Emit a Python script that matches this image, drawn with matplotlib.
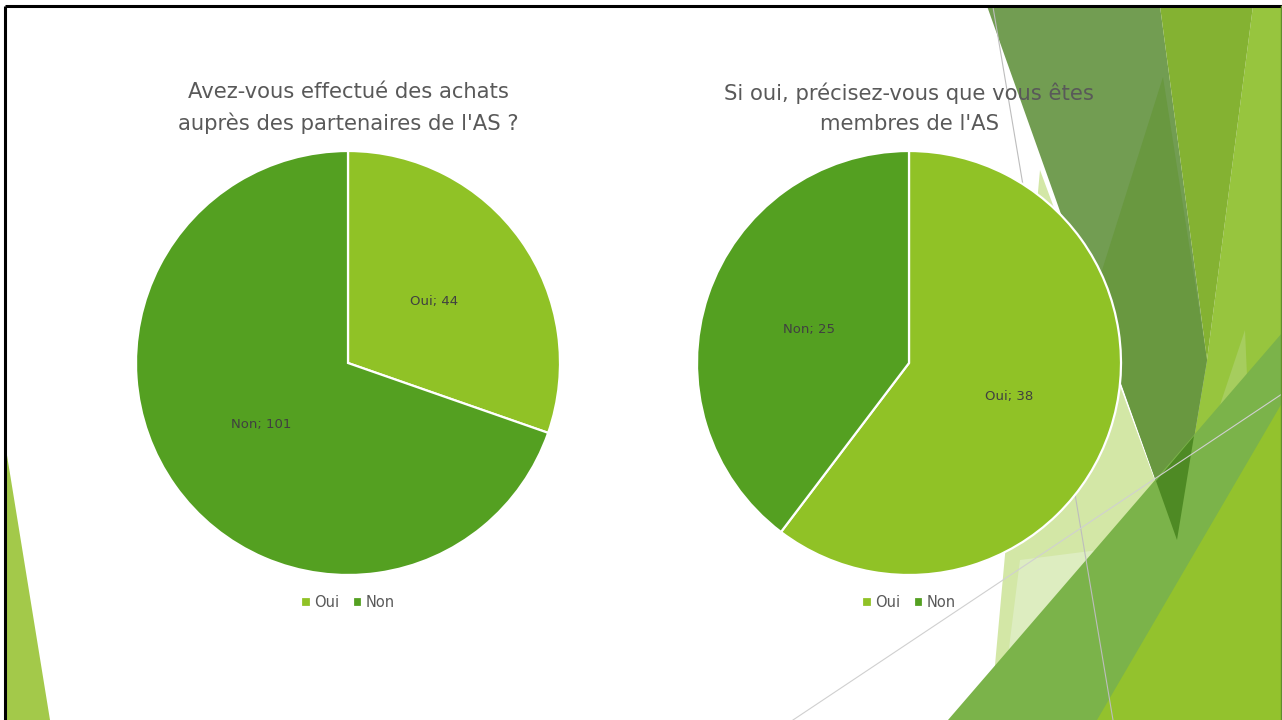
import matplotlib
matplotlib.use("Agg")
import matplotlib.pyplot as plt
from matplotlib.patches import Polygon

# ---- data ----
categories = ["Oui", "Non"]
q1_title = "Avez-vous effectué des achats\nauprès des partenaires de l'AS ?"
q1_values = [44, 101]
q2_title = "Si oui, précisez-vous que vous êtes\nmembres de l'AS"
q2_values = [38, 25]

colors = ["#90C226", "#54A021"]
W, H = 1282, 720
plt.rcParams['font.family'] = ['DejaVu Sans']

fig = plt.figure(figsize=(W / 100, H / 100), dpi=100)
fig.patch.set_facecolor("white")

# ---- background decoration (slide theme) ----
bg = fig.add_axes([0, 0, 1, 1], zorder=0)
bg.set_xlim(0, W)
bg.set_ylim(H, 0)
bg.axis("off")

def poly(pts, color, alpha=1.0, z=1):
    bg.add_patch(Polygon(pts, closed=True, facecolor=color, edgecolor="none",
                         alpha=alpha, zorder=z))

poly([(1253, 6), (1282, 6), (1282, 720), (1100, 720), (1177, 540), (1207, 360)], "#97C53E", z=1)
poly([(1040, 170), (1177, 540), (1100, 720), (990, 720)], "#D3E7A6", z=1)
poly([(1020, 560), (1177, 540), (1100, 720), (1000, 720)], "#DDEDC0", z=1.1)
poly([(987, 6), (1160, 6), (1207, 360), (1177, 540)], "#729D52", z=2)
poly([(1163, 77), (1207, 360), (1177, 540), (1092, 302)], "#699840", z=3)
poly([(1160, 6), (1253, 6), (1207, 360)], "#84B232", z=3)
poly([(1215, 420), (1245, 330), (1262, 720), (1228, 720)], "#A6CD5E", z=3.5)
poly([(948, 720), (1282, 333), (1282, 720)], "#7BB34A", z=4)
poly([(1156, 481), (1194, 436), (1177, 540)], "#4E8A24", z=4.5)
poly([(1097, 720), (1282, 403), (1282, 720)], "#93C22D", z=5)
poly([(5, 443), (5, 720), (50, 720)], "#A3C94A", z=5)
bg.plot([993, 1113], [7, 720], color="#BDBDBD", lw=0.8, zorder=6)
bg.plot([793, 1282], [720, 394], color="#D0D0D0", lw=0.8, zorder=6)
# slide frame
bg.plot([5, 1282], [6, 6], color="black", lw=2.2, zorder=7, solid_capstyle="butt")
bg.plot([5, 5], [6, 720], color="black", lw=2.2, zorder=7, solid_capstyle="butt")
bg.plot([1281, 1281], [6, 720], color="#5E8F2C", lw=1.0, zorder=7)

# ---- pies ----
def draw_pie(cx, title, values):
    r = 212
    cy = 363
    ax = fig.add_axes([(cx - r) / W, (H - (cy + r)) / H, 2 * r / W, 2 * r / H], zorder=2)
    ax.patch.set_visible(False)
    labels = [f"{c}; {v}" for c, v in zip(categories, values)]
    wedges, texts = ax.pie(values, colors=colors, startangle=90, counterclock=False,
                           labels=labels, labeldistance=0.5,
                           wedgeprops=dict(edgecolor="white", linewidth=1.6),
                           textprops=dict(color="#404040", fontsize=9.5))
    for t in texts:
        t.set_ha("center")
        t.set_va("center")
    ax.set_xlim(-1.0, 1.0)
    ax.set_ylim(-1.0, 1.0)
    ax.set_aspect("equal")
    ax.axis("off")
    ax.legend(wedges, categories, loc="center", bbox_to_anchor=(0.5, -0.066),
              ncol=2, frameon=False, fontsize=10.5, handlelength=0.65, handleheight=0.65,
              handletextpad=0.25, columnspacing=0.9, labelcolor="#595959")
    bg.text(cx, 108, title, ha="center", va="center", fontsize=15.2, color="#595959",
            linespacing=1.6, zorder=10)

draw_pie(348, q1_title, q1_values)
draw_pie(909, q2_title, q2_values)

fig.savefig("out.png", dpi=100)
